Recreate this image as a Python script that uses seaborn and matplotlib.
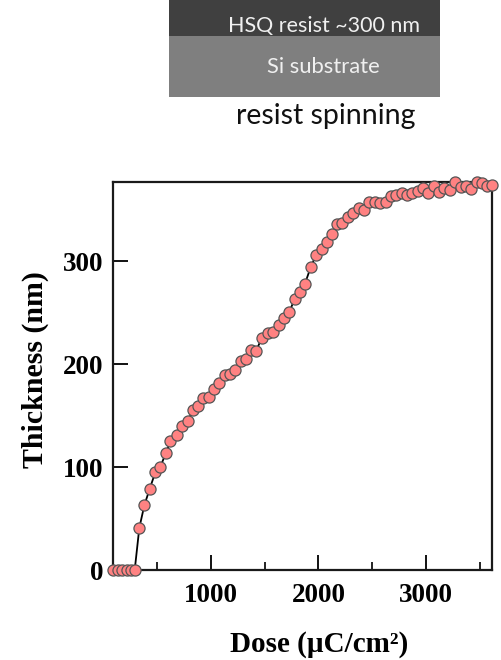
import numpy as np
import pandas as pd
import matplotlib
matplotlib.use('Agg')
import matplotlib.pyplot as plt
import seaborn as sns
from matplotlib.patches import Rectangle
from matplotlib.ticker import MultipleLocator

sns.set_style('ticks')
plt.rcParams['font.family'] = ['Liberation Serif', 'DejaVu Serif']
plt.rcParams['text.color'] = 'black'
plt.rcParams['xtick.labelcolor'] = 'black'
plt.rcParams['ytick.labelcolor'] = 'black'
plt.rcParams['axes.labelcolor'] = 'black'

# dose (uC/cm2) and remaining resist thickness (nm)
dose = [90, 130, 175, 220, 260, 290,
        333, 380, 430, 482, 528, 581, 622, 684, 727, 783, 833, 879, 929, 978,
        1026, 1076, 1127, 1174, 1226, 1276, 1326, 1372, 1419, 1472, 1527, 1580,
        1633, 1679, 1729, 1778, 1824, 1874, 1927, 1977, 2029, 2079, 2129, 2175,
        2222, 2274, 2324, 2377, 2426, 2473, 2526, 2572, 2625, 2671, 2721, 2774,
        2820, 2873, 2923, 2969, 3021, 3074, 3124, 3170, 3223, 3270, 3323, 3372,
        3419, 3472, 3518, 3570, 3617]
thickness = [0, 0, 0, 0, 0, 0,
             41, 63, 79, 95, 100, 114, 125, 131, 140, 145, 155, 159, 167, 168,
             176, 182, 189, 190, 194, 203, 205, 214, 213, 225, 230, 231,
             238, 245, 251, 263, 270, 278, 294, 306, 312, 319, 326, 336,
             337, 343, 347, 352, 350, 358, 358, 357, 358, 363, 364, 366,
             364, 366, 368, 371, 366, 373, 367, 371, 369, 377, 372, 373,
             370, 377, 376, 373, 374]
x_ticks = [1000, 2000, 3000]
y_ticks = [0, 100, 200, 300]

df = pd.DataFrame({'dose': dose, 'thickness': thickness})

fig = plt.figure(figsize=(5.02, 6.6), dpi=100)

# schematic of the stack on top
W, H = 502.0, 660.0
fig.patches.append(Rectangle((169 / W, 1 - 36 / H), (440 - 169) / W, 36 / H,
                             transform=fig.transFigure, facecolor='#404040', edgecolor='none'))
fig.patches.append(Rectangle((169 / W, 1 - 97 / H), (440 - 169) / W, 61 / H,
                             transform=fig.transFigure, facecolor='#7f7f7f', edgecolor='none'))
top_font = ['Lato', 'DejaVu Sans']
fig.text(324 / W, 1 - 26 / H, 'HSQ resist ~300 nm', ha='center', va='center',
         color='#f0f0f0', fontsize=15.5, family=top_font)
fig.text(323 / W, 1 - 67 / H, 'Si substrate', ha='center', va='center',
         color='#f0f0f0', fontsize=15.8, family=top_font)
fig.text(326 / W, 1 - 116 / H, 'resist spinning', ha='center', va='center',
         color='#111111', fontsize=20.5, family=top_font)

ax = fig.add_axes([113 / W, 1 - 570 / H, (492 - 113) / W, (570 - 182) / H])
sns.lineplot(data=df, x='dose', y='thickness', ax=ax, estimator=None, sort=False,
             color='black', linewidth=1.3, marker='o', markersize=8,
             markerfacecolor='#ff8282', markeredgecolor='#555555',
             markeredgewidth=0.9, clip_on=False, zorder=5)

ax.set_xlim(88, 3615)
ax.set_ylim(0, 377)
ax.set_xticks(x_ticks)
ax.set_yticks(y_ticks)
ax.xaxis.set_minor_locator(MultipleLocator(500))
ax.tick_params(axis='both', which='major', direction='in', length=11, width=1.4,
               labelsize=19.5, color='#111111')
ax.tick_params(axis='x', which='minor', direction='in', length=5.5, width=1.3,
               color='#111111')
ax.tick_params(axis='x', which='major', pad=9)
ax.tick_params(axis='y', which='major', pad=7)
for lab in ax.get_xticklabels() + ax.get_yticklabels():
    lab.set_fontweight('bold')
for sp in ax.spines.values():
    sp.set_linewidth(1.6)
    sp.set_color('#1a1a1a')
    sp.set_visible(True)

ax.set_xlabel('Dose (µC/cm²)', fontsize=21, fontweight='bold')
ax.set_ylabel('Thickness (nm)', fontsize=21.5, fontweight='bold')
ax.xaxis.set_label_coords((319 - 113) / (492 - 113), -(645 - 570) / (570 - 182), transform=ax.transAxes)
ax.yaxis.set_label_coords(-(113 - 35) / (492 - 113), (570 - 370) / (570 - 182), transform=ax.transAxes)
ax.xaxis.label.set_va('center')
ax.yaxis.label.set_va('center')

fig.savefig('out.png', dpi=100)
